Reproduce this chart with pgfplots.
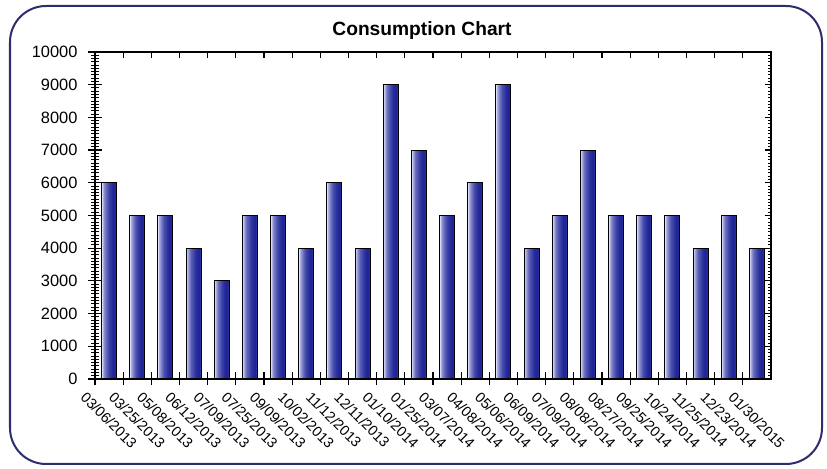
\documentclass[border=0pt]{standalone}
\usepackage{pgfplots}
\usepackage{pgfplotstable}
\pgfplotsset{compat=1.18}
\usepackage{fontspec}
\setmainfont{Liberation Sans}
\definecolor{framec}{RGB}{45,45,110}
\definecolor{barlight}{RGB}{220,222,250}
\definecolor{bardark}{RGB}{30,36,150}
\pgfplotstableread{
x y
0 6000
1 5000
2 5000
3 4000
4 3000
5 5000
6 5000
7 4000
8 6000
9 4000
10 9000
11 7000
12 5000
13 6000
14 9000
15 4000
16 5000
17 7000
18 5000
19 5000
20 5000
21 4000
22 5000
23 4000
}\data
% stripe: width, shift, percent of light colour
\newcommand\stripe[3]{\addplot[ybar, draw=none, bar width=#1, bar shift=#2, fill=barlight!#3!bardark] table[x=x,y=y]{\data};}
\begin{document}
\begin{tikzpicture}[x=0.5pt,y=-0.5pt]
\path[use as bounding box] (0,0) rectangle (827,469);
\draw[framec, line width=1pt, rounded corners=18pt] (10,6) rectangle (822,464);
\node[font=\bfseries\fontsize{9.6}{11}\selectfont] at (422,31) {Consumption Chart};
\pgfplotsset{
  common/.style={
    at={(47.5pt,-189.5pt)}, anchor=south west,
    scale only axis, width=338pt, height=163.5pt,
    xmin=-0.5, xmax=23.5, ymin=0, ymax=10000,
    xtick={-0.5,0.5,...,22.5},
    ytick={0,1000,...,10000},
    minor y tick num=9,
    scaled y ticks=false,
    /pgf/number format/assume math mode=true,
    /pgf/number format/1000 sep={},
    major tick style={black, line width=0.6pt},
    minor tick style={black, line width=0.5pt},
  }
}
\begin{axis}[common,
  axis line style={black, line width=0.7pt},
  tick align=center,
  xtick pos=bottom, ytick pos=left,
  major tick length=6.5pt,
  minor tick length=3.5pt,
  ticklabel style={font=\fontsize{8.2}{9}\selectfont},
  xticklabels={03/06/2013,03/25/2013,05/08/2013,06/12/2013,07/09/2013,07/25/2013,09/09/2013,10/02/2013,11/12/2013,12/11/2013,01/10/2014,01/25/2014,03/07/2014,04/08/2014,05/06/2014,06/09/2014,07/09/2014,08/08/2014,08/27/2014,09/25/2014,10/24/2014,11/25/2014,12/23/2014,01/30/2015},
  xticklabel style={rotate=-45, anchor=north west, inner sep=1pt, xshift=-2pt, yshift=-3.5pt, font=\fontsize{7.2}{8}\selectfont},
  yticklabel style={xshift=-2pt},
  axis on top,
]
\stripe{0.53}{0}{100}
\stripe{0.4858}{0.02208}{75}
\stripe{0.4417}{0.04417}{56}
\stripe{0.3975}{0.06625}{42}
\stripe{0.3533}{0.08833}{31}
\stripe{0.3092}{0.11042}{23}
\stripe{0.2650}{0.13250}{16}
\stripe{0.2208}{0.15458}{10}
\stripe{0.1767}{0.17667}{5}
\stripe{0.1325}{0.19875}{2}
\stripe{0.0883}{0.22083}{0}
\stripe{0.0442}{0.24292}{6}
\addplot[ybar, bar width=0.53, draw=black, line width=0.5pt, fill=none] table[x=x,y=y]{\data};
\end{axis}
\begin{axis}[common,
  axis line style={draw=none},
  tick align=inside,
  xtick pos=top, ytick pos=right,
  major tick length=2.8pt,
  minor tick length=1.6pt,
  xticklabels={}, yticklabels={},
]
\end{axis}
\end{tikzpicture}
\end{document}
